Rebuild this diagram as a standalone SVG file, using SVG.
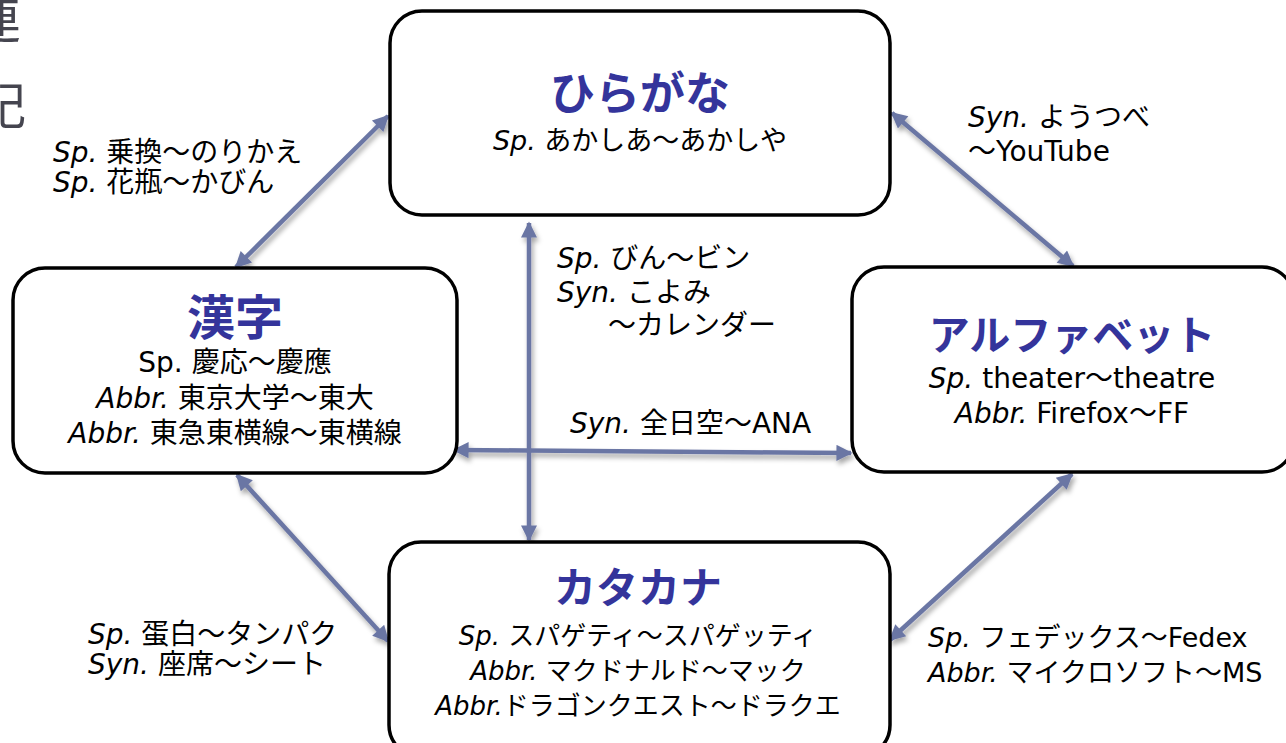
<svg xmlns="http://www.w3.org/2000/svg" width="1286" height="743" viewBox="0 0 1286 743">
<style>
text{font-family:"DejaVu Sans","Noto Sans CJK JP",sans-serif;fill:#000}
.title{font-weight:bold;fill:#34349B;text-anchor:middle}
.c{text-anchor:middle}
.i{font-style:italic}
.box{fill:#fff;stroke:#000;stroke-width:3.5}
.conn{stroke:#6B76A4;stroke-width:4.5;fill:none;marker-start:url(#ah);marker-end:url(#ah)}
.edge{font-size:28px}
.corner{font-size:50px;fill:#45454F;font-family:"Noto Sans CJK JP",sans-serif}
</style>
<defs>
<marker id="ah" viewBox="0 0 10 10" refX="9" refY="5" markerWidth="4.2" markerHeight="3.6" orient="auto-start-reverse">
<path d="M0,0 L10,5 L0,10 Z" fill="#6B76A4"/>
</marker>
<filter id="sh" filterUnits="userSpaceOnUse" x="0" y="0" width="1286" height="743">
<feDropShadow dx="2" dy="4" stdDeviation="2.5" flood-color="#000" flood-opacity="0.35"/>
</filter>
</defs>
<rect width="1286" height="743" fill="#fff"/>
<g id="corner-text">
<text class="corner" x="-29" y="38">連</text>
<text class="corner" x="-24" y="124">記</text>
</g>
<g id="connectors" filter="url(#sh)">
<line class="conn" x1="388" y1="116" x2="236" y2="267"/>
<line class="conn" x1="892" y1="113" x2="1073" y2="266"/>
<line class="conn" x1="529" y1="223" x2="529" y2="540"/>
<line class="conn" x1="454" y1="450" x2="851" y2="453"/>
<line class="conn" x1="237" y1="475" x2="388" y2="641"/>
<line class="conn" x1="1072" y1="474" x2="890" y2="640"/>
</g>
<g id="edge-labels">
<text class="edge" x="53" y="162"><tspan class="i">Sp.</tspan> 乗換〜のりかえ</text>
<text class="edge" x="53" y="192"><tspan class="i">Sp.</tspan> 花瓶〜かびん</text>
<text class="edge" x="968" y="127"><tspan class="i">Syn.</tspan> ようつべ</text>
<text class="edge" x="968" y="161">〜YouTube</text>
<text class="edge" x="557" y="268"><tspan class="i">Sp.</tspan> びん〜ビン</text>
<text class="edge" x="557" y="302"><tspan class="i">Syn.</tspan> こよみ</text>
<text class="edge" x="608" y="335">〜カレンダー</text>
<text class="edge" x="570" y="433"><tspan class="i">Syn.</tspan> 全日空〜ANA</text>
<text class="edge" x="88" y="644"><tspan class="i">Sp.</tspan> 蛋白〜タンパク</text>
<text class="edge" x="88" y="674"><tspan class="i">Syn.</tspan> 座席〜シート</text>
<text class="edge" x="928" y="647" style="font-size:27px"><tspan class="i">Sp.</tspan> フェデックス〜Fedex</text>
<text class="edge" x="928" y="682" style="font-size:27px"><tspan class="i">Abbr.</tspan> マイクロソフト〜MS</text>
</g>
<g id="hiragana">
<rect class="box" x="390" y="11" width="500" height="204" rx="32"/>
<text class="title" x="640" y="110" font-size="45">ひらがな</text>
<text class="c" x="640" y="150" font-size="27"><tspan class="i">Sp.</tspan> あかしあ〜あかしや</text>
</g>
<g id="kanji">
<rect class="box" x="13" y="268" width="444" height="205" rx="32"/>
<text class="title" x="235" y="335" font-size="48">漢字</text>
<text class="c" x="235" y="372" font-size="28">Sp. 慶応〜慶應</text>
<text class="c" x="235" y="408" font-size="28"><tspan class="i">Abbr.</tspan> 東京大学〜東大</text>
<text class="c" x="235" y="443" font-size="28"><tspan class="i">Abbr.</tspan> 東急東横線〜東横線</text>
</g>
<g id="alphabet">
<rect class="box" x="852" y="267" width="442" height="205" rx="32"/>
<text class="title" x="1072" y="350" font-size="41">アルファベット</text>
<text class="c" x="1072" y="388" font-size="28"><tspan class="i">Sp.</tspan> theater〜theatre</text>
<text class="c" x="1072" y="423" font-size="28"><tspan class="i">Abbr.</tspan> Firefox〜FF</text>
</g>
<g id="katakana">
<rect class="box" x="389" y="542" width="501" height="215" rx="32"/>
<text class="title" x="638" y="603" font-size="42">カタカナ</text>
<text class="c" x="638" y="645" font-size="26"><tspan class="i">Sp.</tspan> スパゲティ〜スパゲッティ</text>
<text class="c" x="638" y="680" font-size="26"><tspan class="i">Abbr.</tspan> マクドナルド〜マック</text>
<text class="c" x="638" y="715" font-size="26"><tspan class="i">Abbr.</tspan>ドラゴンクエスト〜ドラクエ</text>
</g>
</svg>
